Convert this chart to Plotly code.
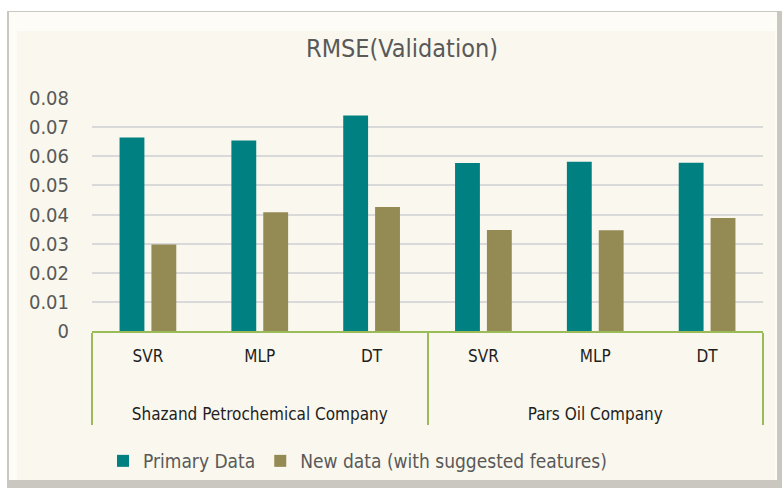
import plotly.graph_objects as go

companies = ["Shazand Petrochemical Company"] * 3 + ["Pars Oil Company"] * 3
models = ["SVR", "MLP", "DT", "SVR", "MLP", "DT"]
primary = [0.0664, 0.0654, 0.0740, 0.0577, 0.0581, 0.0578]
new_data = [0.0297, 0.0408, 0.0426, 0.0347, 0.0346, 0.0388]
series_names = ["Primary Data", "New data (with suggested features)"]
y_ticks = [0, 0.01, 0.02, 0.03, 0.04, 0.05, 0.06, 0.07, 0.08]

FONT = "'Liberation Sans Narrow', 'DejaVu Sans Condensed', 'Open Sans', sans-serif"

W, H = 782, 492
L, R, T, B = 92, 763, 98, 331

def px(x):
    return (x - L) / (R - L)

def py(y):
    return (B - y) / (B - T)

model_labels = [m + "<br> <br> " for m in models]

fig = go.Figure()
fig.add_trace(go.Bar(x=[companies, model_labels], y=primary, name=series_names[0],
                     marker=dict(color="#008080", line=dict(width=0))))
fig.add_trace(go.Bar(x=[companies, model_labels], y=new_data, name=series_names[1],
                     marker=dict(color="#948A54", line=dict(width=0))))

shapes = [
    dict(type="rect", xref="paper", yref="paper", x0=px(7), x1=px(782), y0=py(11), y1=py(488),
         fillcolor="#c9c7bf", line=dict(width=0), layer="below"),
    dict(type="rect", xref="paper", yref="paper", x0=px(9), x1=px(777), y0=py(12), y1=py(480),
         fillcolor="#fdfcf6", line=dict(width=0), layer="below"),
    dict(type="rect", xref="paper", yref="paper", x0=px(17), x1=px(775), y0=py(31), y1=py(480),
         fillcolor="#faf8ee", line=dict(width=0), layer="below"),
]

fig.update_layout(
    width=W, height=H,
    margin=dict(l=L, r=W - R, t=T, b=H - B, pad=0),
    paper_bgcolor="white",
    plot_bgcolor="rgba(0,0,0,0)",
    barmode="group",
    bargap=0.43,
    bargroupgap=0.22,
    shapes=shapes,
    font=dict(family=FONT, color="#595959", size=18),
    title=dict(text="RMSE(Validation)", x=px(402), xref="paper", xanchor="center",
               y=1 - 48 / H, yanchor="middle", font=dict(family=FONT, size=25, color="#595959")),
    legend=dict(orientation="h", x=px(103), xanchor="left", y=py(461), yanchor="middle",
                font=dict(family=FONT, size=19, color="#595959"), bgcolor="rgba(0,0,0,0)",
                itemclick=False),
    xaxis=dict(type="multicategory", showline=True, linecolor="#9BBB59", linewidth=2,
               showdividers=True, dividercolor="#9BBB59", dividerwidth=2,
               ticklabelstandoff=9,
               tickfont=dict(family=FONT, size=17, color="#1f1f1f"), showgrid=False, ticks=""),
    yaxis=dict(range=[0, 0.08], tickvals=y_ticks, ticktext=[f"{v:g}" for v in y_ticks],
               showgrid=True, gridcolor="#D9D9D9", gridwidth=1.5, zeroline=False,
               showline=False, ticks="", ticklabelstandoff=22,
               tickfont=dict(family=FONT, size=20, color="#595959")),
)

fig.write_html("out.html", config={"displayModeBar": False},
               post_script="document.body.style.margin='0';")
